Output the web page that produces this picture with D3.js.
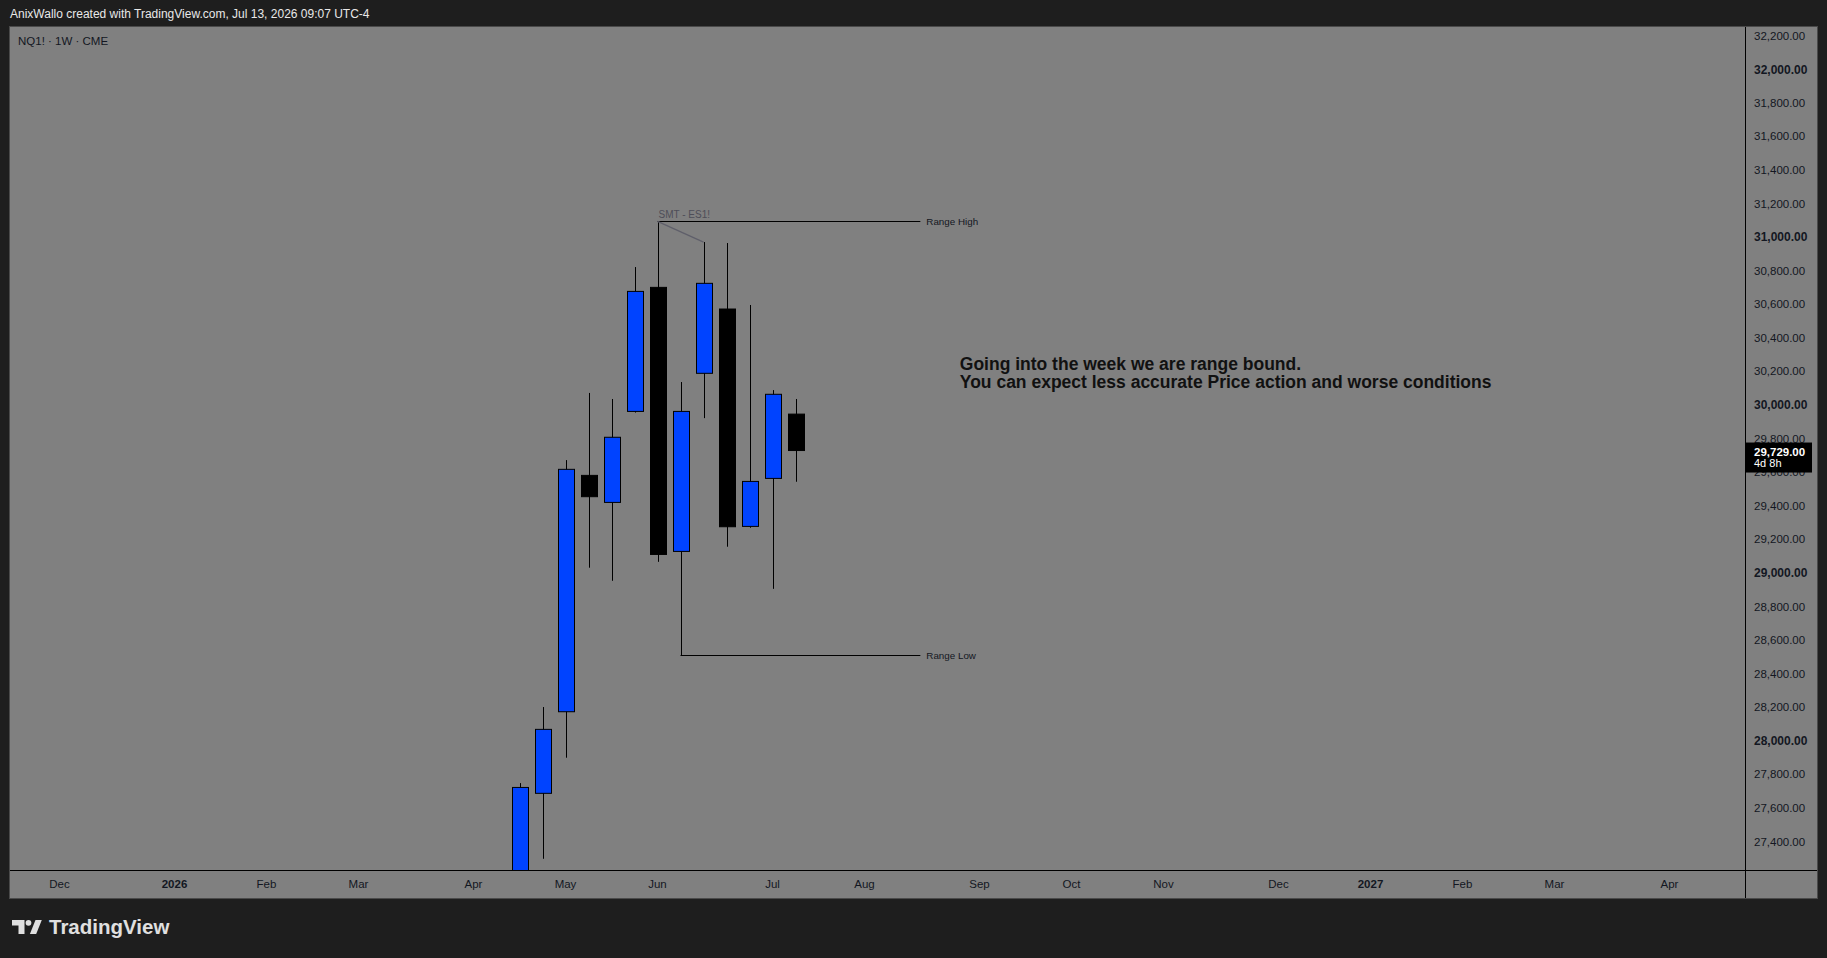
<!DOCTYPE html>
<html>
<head>
<meta charset="utf-8">
<script src="https://cdn.jsdelivr.net/npm/d3@7"></script>
<style>
  html, body { margin: 0; padding: 0; background: #1e1e1e; }
  svg { display: block; }
  text { font-family: "Liberation Sans", Arial, sans-serif; }
</style>
</head>
<body>
<svg id="chart" width="1827" height="958"></svg>
<script>
// ---------------- DATA ----------------
const barDates = ["2026-04-20","2026-04-27","2026-05-04","2026-05-11","2026-05-18","2026-05-25",
                  "2026-06-01","2026-06-08","2026-06-15","2026-06-22","2026-06-29","2026-07-06","2026-07-13"];
const opens  = [27050, 27687, 28173, 29581, 29420, 29962, 30701, 29128, 30189, 30572, 29277, 29563, 29946];
const highs  = [27748, 28201, 29672, 30072, 30036, 30822, 31094, 30137, 30971, 30965, 30596, 30089, 30036];
const lows   = [26900, 27297, 27899, 29031, 28953, 29955, 29066, 28509, 29922, 29156, 29269, 28905, 29543];
const closes = [27722, 28068, 29617, 29454, 29808, 30677, 29110, 29962, 30725, 29275, 29545, 30064, 29729];

const priceTicks = [27400, 27600, 27800, 28000, 28200, 28400, 28600, 28800, 29000, 29200, 29400,
                    29600, 29800, 30000, 30200, 30400, 30600, 30800, 31000, 31200, 31400, 31600,
                    31800, 32000, 32200];
const timeTickDates  = ["2025-12-01","2026-01-05","2026-02-02","2026-03-02","2026-04-06","2026-05-04",
                        "2026-06-01","2026-07-06","2026-08-03","2026-09-07","2026-10-05","2026-11-02",
                        "2026-12-07","2027-01-04","2027-02-01","2027-03-01","2027-04-05"];
const timeTickLabels = ["Dec","2026","Feb","Mar","Apr","May","Jun","Jul","Aug","Sep","Oct","Nov",
                        "Dec","2027","Feb","Mar","Apr"];

const lastPrice = 29729;
const lastPriceLabel = "29,729.00";
const countdownLabel = "4d 8h";

const rangeHigh = { from: "2026-06-01", to: "2026-08-20", price: 31094, label: "Range High" };
const rangeLow  = { from: "2026-06-08", to: "2026-08-20", price: 28509, label: "Range Low" };
const smtLine   = { from: "2026-06-01", fromPrice: 31094, to: "2026-06-15", toPrice: 30971, label: "SMT - ES1!" };

const noteLines = ["Going into the week we are range bound.",
                   "You can expect less accurate Price action and worse conditions"];
const noteAnchor = { date: "2026-09-01", price: 30208 };

const headerText = "AnixWallo created with TradingView.com, Jul 13, 2026 09:07 UTC-4";
const symbolText = "NQ1! \u00B7 1W \u00B7 CME";

// ---------------- LAYOUT ----------------
const W = 1827, H = 958;
const panel = { x0: 10, y0: 27, x1: 1817, y1: 898 };
const plot  = { x0: 10, y0: 27, x1: 1745, y1: 870 };

const parse = s => new Date(s + "T00:00:00Z");
const x = d3.scaleUtc().domain([parse("2026-05-04"), parse("2026-07-13")]).range([565.5, 795.5]);
const y = d3.scaleLinear().domain([27400, 32000]).range([841.5, 69.3]);

const svg = d3.select("#chart");
svg.append("rect").attr("width", W).attr("height", H).attr("fill", "#1e1e1e");

// header
svg.append("text").attr("x", 10).attr("y", 18).attr("fill", "#e8e8e8")
  .attr("font-size", 12).text(headerText);

// panel
svg.append("rect").attr("x", panel.x0 - 0.5).attr("y", panel.y0 - 0.5)
  .attr("width", panel.x1 - panel.x0 + 1).attr("height", panel.y1 - panel.y0 + 1)
  .attr("fill", "#808080").attr("stroke", "#4a4a4a");

const defs = svg.append("defs");
defs.append("clipPath").attr("id", "plotclip").append("rect")
  .attr("x", plot.x0).attr("y", plot.y0).attr("width", plot.x1 - plot.x0).attr("height", plot.y1 - plot.y0);

// symbol
svg.append("text").attr("x", 18).attr("y", 45).attr("fill", "#131722")
  .attr("font-size", 11.5).text(symbolText);

// candles
const bars = barDates.map((d, i) => ({ date: parse(d), o: opens[i], h: highs[i], l: lows[i], c: closes[i] }));
const g = svg.append("g").attr("clip-path", "url(#plotclip)");
const bw = 16;
const snap = v => Math.round(v) + 0.5;
g.selectAll("line.wick").data(bars).join("line").attr("class", "wick")
  .attr("x1", d => snap(x(d.date))).attr("x2", d => snap(x(d.date)))
  .attr("y1", d => y(d.h)).attr("y2", d => y(d.l))
  .attr("stroke", "#000").attr("stroke-width", 1);
g.selectAll("rect.body").data(bars).join("rect").attr("class", "body")
  .attr("x", d => snap(x(d.date)) - bw / 2).attr("width", bw)
  .attr("y", d => y(Math.max(d.o, d.c))).attr("height", d => Math.max(1, Math.abs(y(d.o) - y(d.c))))
  .attr("fill", d => d.c >= d.o ? "#0043ff" : "#000000")
  .attr("stroke", "#000").attr("stroke-width", 1);

// annotations
const ann = svg.append("g").attr("clip-path", "url(#plotclip)");
[rangeHigh, rangeLow].forEach(r => {
  const yy = snap(y(r.price));
  ann.append("line").attr("x1", x(parse(r.from))).attr("x2", x(parse(r.to)))
    .attr("y1", yy).attr("y2", yy).attr("stroke", "#000").attr("stroke-width", 1);
  ann.append("text").attr("x", x(parse(r.to)) + 6).attr("y", yy).attr("dy", "0.35em")
    .attr("font-size", 9.8).attr("fill", "#131722").text(r.label);
});
ann.append("line")
  .attr("x1", x(parse(smtLine.from))).attr("y1", y(smtLine.fromPrice))
  .attr("x2", x(parse(smtLine.to))).attr("y2", y(smtLine.toPrice))
  .attr("stroke", "#5f5f6a").attr("stroke-width", 1.3);
ann.append("text").attr("x", x(parse(smtLine.from)) + 1).attr("y", y(smtLine.fromPrice) - 3)
  .attr("font-size", 10).attr("fill", "#4e4e58").text(smtLine.label);

const note = ann.append("text").attr("fill", "#111111").attr("font-size", 17).attr("font-weight", "bold");
const spans = noteLines.map((t, i) =>
  note.append("tspan").attr("x", x(parse(noteAnchor.date))).attr("y", y(noteAnchor.price) + i * 17.7).text(t));
// fit the long line to the reference's measured width (532px)
const w2 = spans[1].node().getComputedTextLength();
if (w2 > 0) note.attr("font-size", 17 * 532 / w2);

// axes separators
svg.append("line").attr("x1", 1745.5).attr("x2", 1745.5).attr("y1", panel.y0).attr("y2", panel.y1)
  .attr("stroke", "#000");
svg.append("line").attr("x1", panel.x0).attr("x2", panel.x1).attr("y1", 870.5).attr("y2", 870.5)
  .attr("stroke", "#000");

// price axis
const fmt = d3.format(",.2f");
const pa = svg.append("g");
pa.selectAll("text").data(priceTicks).join("text")
  .attr("x", 1754).attr("y", d => y(d)).attr("dy", "0.35em")
  .attr("font-size", d => d % 1000 === 0 ? 12 : 11.5)
  .attr("font-weight", d => d % 1000 === 0 ? "bold" : "normal")
  .attr("fill", "#131722").text(d => fmt(d));

// last price label
const ly = y(lastPrice);
svg.append("rect").attr("x", 1745).attr("y", ly - 8).attr("width", 67).attr("height", 30).attr("fill", "#000");
svg.append("text").attr("x", 1754).attr("y", ly + 1).attr("dy", "0.35em").attr("font-size", 11.5)
  .attr("font-weight", "bold").attr("fill", "#ffffff").text(lastPriceLabel);
svg.append("text").attr("x", 1754).attr("y", ly + 13).attr("dy", "0.35em").attr("font-size", 11)
  .attr("fill", "#ffffff").text(countdownLabel);

// time axis
const ta = svg.append("g");
ta.selectAll("text").data(timeTickDates.map((d, i) => ({ d: parse(d), l: timeTickLabels[i] }))).join("text")
  .attr("x", d => x(d.d)).attr("y", 884).attr("dy", "0.35em").attr("text-anchor", "middle")
  .attr("font-size", 11.5).attr("font-weight", d => /^\d{4}$/.test(d.l) ? "bold" : "normal")
  .attr("fill", "#131722").text(d => d.l);

// TradingView logo
const logo = svg.append("g").attr("fill", "#e0e0e0");
logo.append("path").attr("d", "M12 920 H24.5 V934 H18.5 V925.5 H12 Z");
logo.append("circle").attr("cx", 28.5).attr("cy", 922.8).attr("r", 2.9);
logo.append("path").attr("d", "M35.5 920 H41.8 L36.2 934 H29.9 Z");
svg.append("text").attr("x", 49).attr("y", 934).attr("font-size", 20.5).attr("font-weight", "bold")
  .attr("fill", "#e0e0e0").text("TradingView");
</script>
</body>
</html>
